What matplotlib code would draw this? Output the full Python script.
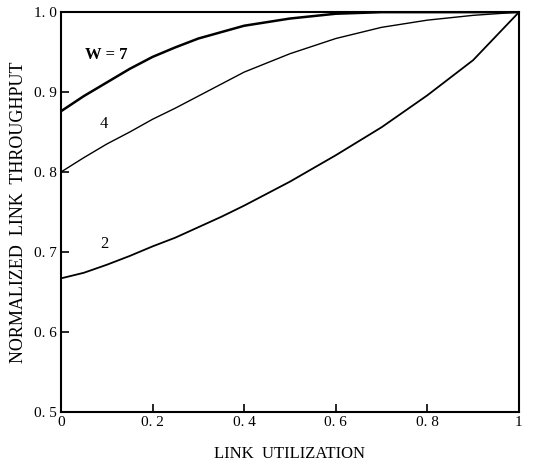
import matplotlib
matplotlib.use("Agg")
import matplotlib.pyplot as plt

# values
utilization = [0.0, 0.05, 0.1, 0.15, 0.2, 0.25, 0.3, 0.35, 0.4, 0.5, 0.6, 0.7, 0.8, 0.9, 1.0]
w7 = [0.876, 0.895, 0.912, 0.929, 0.944, 0.956, 0.967, 0.975, 0.983, 0.992, 0.998, 1.0, 1.0, 1.0, 1.0]
w4 = [0.800, 0.818, 0.835, 0.850, 0.866, 0.880, 0.895, 0.910, 0.925, 0.948, 0.967, 0.981, 0.990, 0.996, 1.0]
w2 = [0.667, 0.674, 0.684, 0.695, 0.707, 0.718, 0.731, 0.744, 0.758, 0.788, 0.821, 0.856, 0.896, 0.940, 1.0]

x_ticks = [0, 0.2, 0.4, 0.6, 0.8, 1.0]
x_tick_labels = ["0", "0. 2", "0. 4", "0. 6", "0. 8", "1"]
y_ticks = [0.5, 0.6, 0.7, 0.8, 0.9, 1.0]
y_tick_labels = ["0. 5", "0. 6", "0. 7", "0. 8", "0. 9", "1. 0"]

plt.rcParams["font.family"] = ["Liberation Serif", "DejaVu Serif"]

fig = plt.figure(figsize=(5.44, 4.67), dpi=100)
ax = fig.add_axes([0.112, 0.118, 0.842, 0.856])

ax.plot(utilization, w7, color="black", lw=1.8)
ax.plot(utilization, w4, color="black", lw=1.0)
ax.plot(utilization, w2, color="black", lw=1.3)

ax.text(0.098, 0.946, "W = 7", fontsize=12, fontweight="bold", ha="center", va="center")
ax.text(0.093, 0.860, "4", fontsize=12, ha="center", va="center")
ax.text(0.095, 0.710, "2", fontsize=12, ha="center", va="center")

ax.set_xlim(0, 1)
ax.set_ylim(0.5, 1.0)
ax.set_xticks(x_ticks)
ax.set_xticklabels(x_tick_labels)
ax.set_yticks(y_ticks)
ax.set_yticklabels(y_tick_labels)
ax.tick_params(direction="in", length=6, width=1.2, labelsize=11, pad=3)
for s in ax.spines.values():
    s.set_linewidth(1.5)

ax.set_xlabel("LINK  UTILIZATION", fontsize=12, labelpad=12)
ax.set_ylabel("NORMALIZED  LINK  THROUGHPUT", fontsize=13, labelpad=5)

fig.savefig("out.png", dpi=100)
